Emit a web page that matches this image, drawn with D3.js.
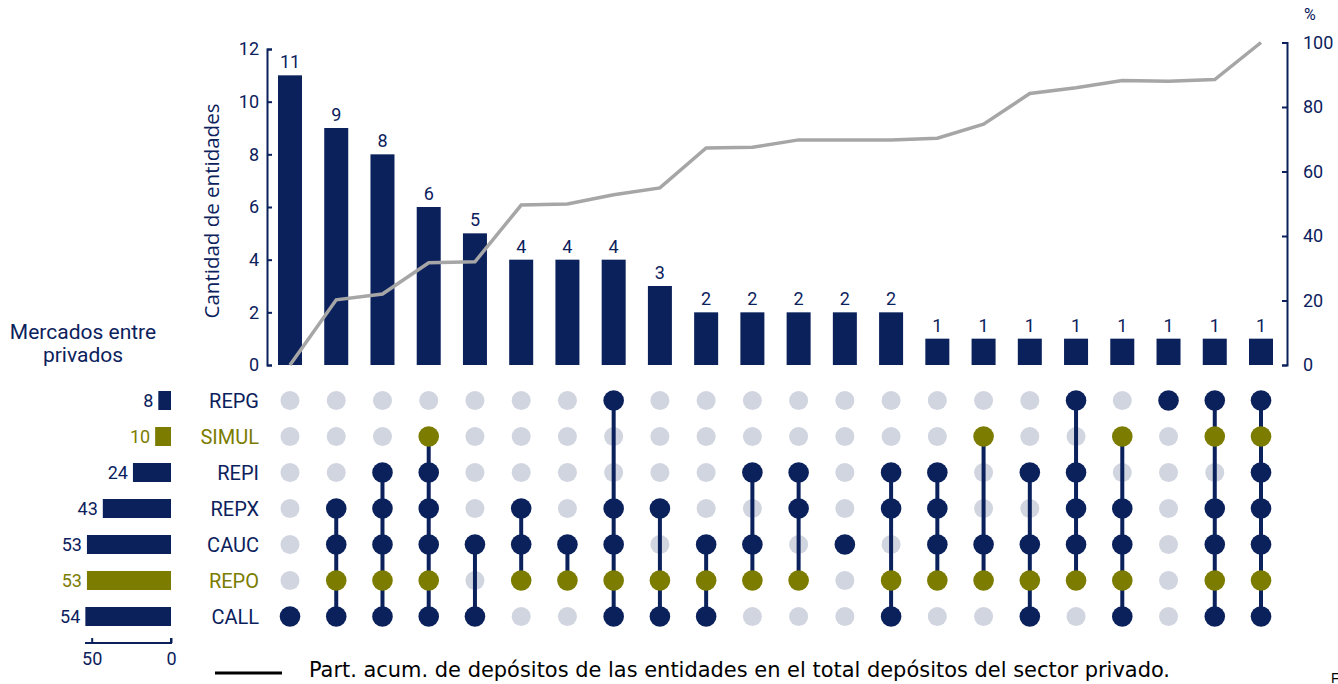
<!DOCTYPE html>
<html><head><meta charset="utf-8">
<script src="https://cdn.jsdelivr.net/npm/d3@7"></script>
<style>body{margin:0;background:#fff}svg{display:block}</style>
</head><body>
<svg id="c" width="1338" height="684"></svg>
<script>
const markets = ["REPG","SIMUL","REPI","REPX","CAUC","REPO","CALL"];
const marketTotals = [8,10,24,43,53,53,54];
const highlighted = ["SIMUL","REPO"];
const counts = [11,9,8,6,5,4,4,4,3,2,2,2,2,2,1,1,1,1,1,1,1,1];
const cumShare = [0,20.2,22,31.7,32,49.6,49.9,52.8,54.9,67.3,67.5,69.8,69.8,69.8,70.3,74.7,84.2,86,88.2,88,88.5,100];
const combos = [
  ["CALL"],
  ["REPX","CAUC","REPO","CALL"],
  ["REPI","REPX","CAUC","REPO","CALL"],
  ["SIMUL","REPI","REPX","CAUC","REPO","CALL"],
  ["CAUC","CALL"],
  ["REPX","CAUC","REPO"],
  ["CAUC","REPO"],
  ["REPG","REPX","CAUC","REPO","CALL"],
  ["REPX","REPO","CALL"],
  ["CAUC","REPO","CALL"],
  ["REPI","CAUC","REPO"],
  ["REPI","REPX","REPO"],
  ["CAUC"],
  ["REPI","REPX","REPO","CALL"],
  ["REPI","REPX","CAUC","REPO"],
  ["SIMUL","CAUC","REPO"],
  ["REPI","CAUC","REPO","CALL"],
  ["REPG","REPI","REPX","CAUC","REPO"],
  ["SIMUL","REPX","CAUC","REPO","CALL"],
  ["REPG"],
  ["REPG","SIMUL","REPX","CAUC","REPO","CALL"],
  ["REPG","SIMUL","REPI","REPX","CAUC","REPO","CALL"]
];
const leftTicks = [0,2,4,6,8,10,12];
const rightTicks = [0,20,40,60,80,100];
const setTicks = [50,0];

const NAVY="#0b215c", OLIVE="#7b7c00", GRAY="#d0d5e0", LINE="#a6a6a6";
const FONT="Roboto, 'Open Sans', sans-serif";
const svg=d3.select("#c");

const x=d3.scalePoint().domain(d3.range(counts.length)).range([290,1261]);
const cx=i=>x(i);
const bw=24;
const y=d3.scaleLinear().domain([0,12]).range([365,49]);
const y2=d3.scaleLinear().domain([0,100]).range([365,42.5]);

// bars
svg.append("g").selectAll("rect").data(counts).join("rect")
  .attr("x",(d,i)=>cx(i)-bw/2).attr("width",bw)
  .attr("y",d=>y(d)).attr("height",d=>y(0)-y(d)).attr("fill",NAVY);
svg.append("g").selectAll("text").data(counts).join("text")
  .attr("x",(d,i)=>cx(i)).attr("y",d=>y(d)-7).attr("text-anchor","middle")
  .attr("font-family",FONT).attr("font-size",18).attr("fill",NAVY).text(d=>d);

// left axis
const la=svg.append("g").attr("transform","translate(267,0)")
  .call(d3.axisRight(y).tickValues(leftTicks).tickSize(5).tickSizeOuter(5));
la.select(".domain").attr("stroke",NAVY).attr("stroke-width",2);
la.selectAll(".tick line").attr("stroke",NAVY).attr("stroke-width",2);
la.selectAll(".tick text").attr("x",-8).attr("text-anchor","end").attr("font-family",FONT).attr("font-size",18).attr("fill",NAVY);
svg.append("text").attr("transform","translate(219,211) rotate(-90)").attr("text-anchor","middle")
  .attr("font-family","'Open Sans', sans-serif").attr("font-size",20.5).attr("fill",NAVY).text("Cantidad de entidades");

// right axis
const ra=svg.append("g").attr("transform","translate(1287,0)")
  .call(d3.axisLeft(y2).tickValues(rightTicks).tickSize(5).tickSizeOuter(5));
ra.select(".domain").attr("stroke",NAVY).attr("stroke-width",2);
ra.selectAll(".tick line").attr("stroke",NAVY).attr("stroke-width",2);
ra.selectAll(".tick text").attr("x",16).attr("text-anchor","start").attr("font-family",FONT).attr("font-size",18).attr("fill",NAVY);
svg.append("text").attr("x",1304).attr("y",20).attr("font-family",FONT).attr("font-size",16).attr("fill",NAVY).text("%");

// cumulative line
svg.append("path").datum(cumShare)
  .attr("d",d3.line().x((d,i)=>cx(i)).y(d=>y2(d)))
  .attr("fill","none").attr("stroke",LINE).attr("stroke-width",3.5);

// matrix
const ry=d3.scalePoint().domain(markets).range([400.5,616.5]);
const mg=svg.append("g");
combos.forEach((c,i)=>{
  markets.forEach(m=>{ if(!c.includes(m)) mg.append("circle").attr("cx",cx(i)).attr("cy",ry(m)).attr("r",9.5).attr("fill",GRAY); });
});
combos.forEach((c,i)=>{
  const ys=c.map(m=>ry(m));
  if(ys.length>1) mg.append("line").attr("x1",cx(i)).attr("x2",cx(i)).attr("y1",d3.min(ys)).attr("y2",d3.max(ys)).attr("stroke",NAVY).attr("stroke-width",4);
});
combos.forEach((c,i)=>{
  c.forEach(m=>mg.append("circle").attr("cx",cx(i)).attr("cy",ry(m)).attr("r",10.3).attr("fill",highlighted.includes(m)?OLIVE:NAVY));
});
svg.append("g").selectAll("text").data(markets).join("text")
  .attr("x",259).attr("y",d=>ry(d)+7).attr("text-anchor","end")
  .attr("font-family",FONT).attr("font-size",20).attr("fill",d=>highlighted.includes(d)?OLIVE:NAVY).text(d=>d);

// left set-size bars
const xs=d3.scaleLinear().domain([0,50]).range([171,91.7]);
svg.append("g").selectAll("rect").data(marketTotals).join("rect")
  .attr("x",d=>xs(d)).attr("width",d=>xs(0)-xs(d)).attr("y",(d,i)=>ry(markets[i])-9.5).attr("height",19)
  .attr("fill",(d,i)=>highlighted.includes(markets[i])?OLIVE:NAVY);
svg.append("g").selectAll("text").data(marketTotals).join("text")
  .attr("x",d=>xs(d)-5).attr("y",(d,i)=>ry(markets[i])+6.5).attr("text-anchor","end")
  .attr("font-family",FONT).attr("font-size",18).attr("fill",(d,i)=>highlighted.includes(markets[i])?OLIVE:NAVY).text(d=>d);
const sa=svg.append("g").attr("transform","translate(0,643)")
  .call(d3.axisTop(xs).tickValues(setTicks).tickSize(5).tickSizeOuter(0).tickFormat(d3.format("d")));
sa.select(".domain").attr("stroke",NAVY).attr("stroke-width",2).attr("d","M85,0H171V-5");
sa.selectAll(".tick line").attr("stroke",NAVY).attr("stroke-width",2);
sa.selectAll(".tick text").attr("y",22).attr("dy",0).attr("font-family",FONT).attr("font-size",18).attr("fill",NAVY);
const tt=svg.append("text").attr("text-anchor","middle").attr("font-family",FONT).attr("font-size",21).attr("fill",NAVY);
tt.append("tspan").attr("x",83).attr("y",339).text("Mercados entre");
tt.append("tspan").attr("x",83).attr("y",362).text("privados");

// legend
svg.append("line").attr("x1",215).attr("x2",282).attr("y1",673).attr("y2",673).attr("stroke","#000").attr("stroke-width",3);
svg.append("text").attr("x",309).attr("y",677).attr("font-family","'Liberation Sans Narrow', 'DejaVu Sans Condensed', sans-serif").attr("font-size",22)
  .attr("textLength",861).attr("lengthAdjust","spacingAndGlyphs").attr("fill","#000")
  .text("Part. acum. de depósitos de las entidades en el total depósitos del sector privado.");
svg.append("text").attr("x",1331).attr("y",683).attr("font-family","'Liberation Sans Narrow', sans-serif").attr("font-size",14).attr("fill","#000").text("F");
</script>
</body></html>
